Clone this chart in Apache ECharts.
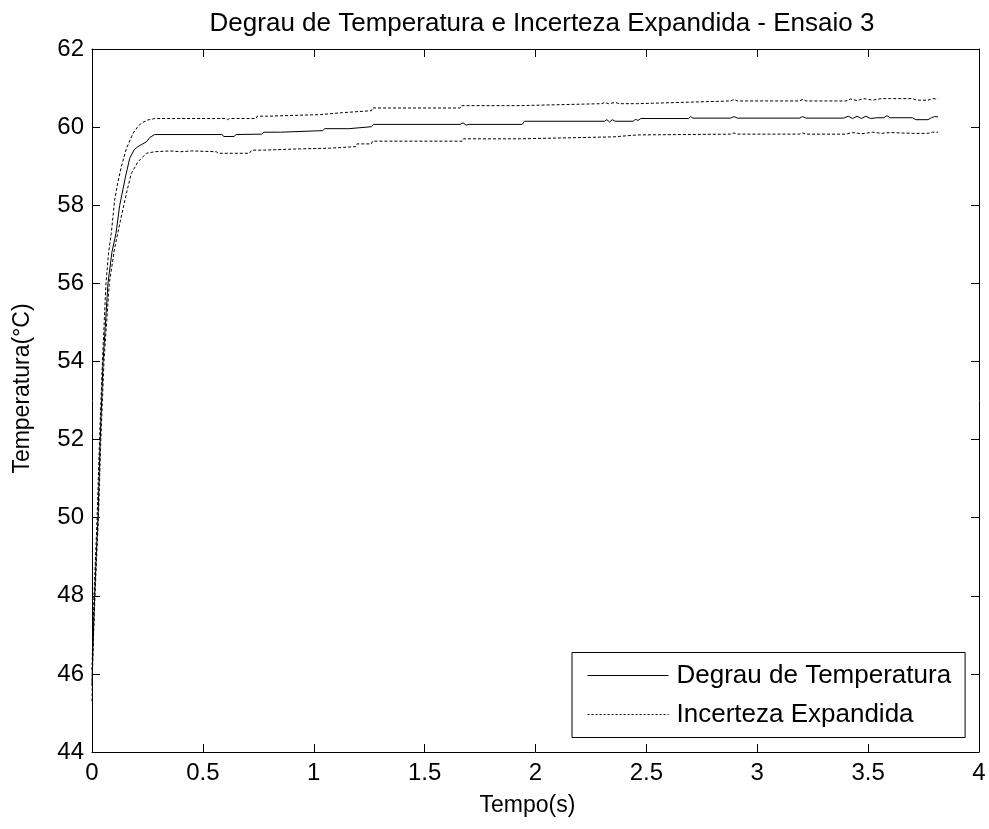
<!DOCTYPE html>
<html>
<head>
<meta charset="utf-8">
<script src="https://cdn.jsdelivr.net/npm/echarts@6/dist/echarts.min.js"></script>
<style>html,body{margin:0;padding:0;background:#fff}#c{width:989px;height:829px}</style>
</head>
<body>
<div id="c"></div>
<script>
const titleText = "Degrau de Temperatura e Incerteza Expandida - Ensaio 3";
const xName = "Tempo(s)";
const yName = "Temperatura(\u00B0C)";
const seriesNames = ["Degrau de Temperatura", "Incerteza Expandida"];
const xTicks = [0, 0.5, 1, 1.5, 2, 2.5, 3, 3.5, 4];
const yTicks = [44, 46, 48, 50, 52, 54, 56, 58, 60, 62];

// Degrau de Temperatura [tempo, temperatura]
const degrau = [
  [0,45.7],[0.001,46.0],[0.006,47.0],[0.012,48.0],[0.019,49.0],[0.027,50.0],[0.037,52.0],[0.05,54.0],
  [0.072,56.0],[0.09,56.8],[0.108,57.28],[0.125,58.0],[0.15,58.7],[0.17,59.2],[0.19,59.42],
  [0.207,59.5],[0.225,59.56],[0.245,59.62],[0.262,59.74],[0.283,59.81],
  [0.585,59.81],[0.595,59.76],[0.64,59.76],[0.65,59.81],[0.765,59.82],[0.775,59.87],
  [0.84,59.87],[0.845,59.9],[0.85,59.87],[0.855,59.91],[1.04,59.91],[1.05,59.96],
  [1.145,59.96],[1.152,59.99],[1.158,59.96],[1.165,60.01],[1.26,60.01],[1.27,60.07],
  [1.66,60.07],[1.673,60.11],[1.688,60.05],[1.70,60.07],[1.94,60.07],[1.95,60.15],
  [2.31,60.15],[2.322,60.19],[2.334,60.13],[2.346,60.19],[2.36,60.15],[2.44,60.15],
  [2.452,60.2],[2.462,60.17],[2.475,60.22],[2.69,60.22],[2.70,60.27],[2.71,60.23],
  [2.88,60.23],[2.895,60.27],[2.91,60.23],[3.19,60.23],[3.205,60.27],[3.22,60.23],
  [3.39,60.23],[3.41,60.28],[3.43,60.22],[3.45,60.28],[3.47,60.22],[3.49,60.28],
  [3.51,60.22],[3.54,60.24],[3.57,60.24],[3.585,60.29],[3.60,60.24],[3.70,60.24],
  [3.715,60.19],[3.77,60.19],[3.785,60.24],[3.80,60.27],[3.815,60.26]
];

// Incerteza Expandida - limite superior
const superior = [
  [0,46.1],[0.004,47.0],[0.009,48.0],[0.016,49.0],[0.023,50.0],[0.034,52.0],[0.047,54.0],
  [0.063,56.0],[0.075,56.8],[0.087,57.28],[0.102,58.13],[0.117,58.6],[0.132,58.98],
  [0.155,59.45],[0.185,59.84],[0.205,60.0],[0.222,60.1],[0.25,60.18],[0.283,60.22],
  [0.60,60.22],[0.61,60.19],[0.62,60.22],[0.74,60.22],[0.745,60.28],[0.79,60.28],
  [0.795,60.32],[1.03,60.32],[1.035,60.37],[1.13,60.37],[1.135,60.42],[1.26,60.42],
  [1.265,60.49],[1.66,60.49],[1.665,60.55],[1.93,60.55],[1.935,60.6],[2.30,60.6],
  [2.31,60.63],[2.33,60.6],[2.36,60.63],[2.38,60.6],[2.46,60.6],[2.465,60.64],
  [2.70,60.64],[2.705,60.67],[2.88,60.67],[2.895,60.71],[2.91,60.67],[3.19,60.67],
  [3.205,60.71],[3.22,60.67],[3.40,60.67],[3.42,60.72],[3.45,60.68],[3.48,60.73],
  [3.52,60.69],[3.56,60.73],[3.60,60.73],[3.70,60.73],[3.72,60.69],[3.77,60.69],
  [3.79,60.73],[3.815,60.72]
];

// Incerteza Expandida - limite inferior
const inferior = [
  [0,45.3],[0.002,46.0],[0.007,47.0],[0.0135,48.0],[0.021,49.0],[0.029,50.0],[0.04,52.0],
  [0.054,54.0],[0.078,56.0],[0.102,56.9],[0.128,57.6],[0.155,58.3],[0.177,58.81],
  [0.207,59.11],[0.245,59.33],[0.283,59.37],[0.35,59.39],[0.40,59.37],[0.45,59.39],
  [0.56,59.37],[0.57,59.33],[0.71,59.33],[0.72,59.41],[0.77,59.41],[0.775,59.44],
  [0.92,59.44],[0.925,59.46],[1.07,59.46],[1.075,59.50],[1.19,59.5],[1.195,59.57],
  [1.26,59.57],[1.265,59.64],[1.67,59.64],[1.675,59.70],[1.93,59.70],[1.935,59.75],
  [2.35,59.75],[2.355,59.80],[2.46,59.80],[2.465,59.82],[2.88,59.82],[2.895,59.85],
  [2.91,59.82],[3.19,59.82],[3.205,59.85],[3.22,59.82],[3.40,59.82],[3.43,59.86],
  [3.47,59.83],[3.52,59.87],[3.56,59.84],[3.60,59.86],[3.70,59.84],[3.77,59.84],
  [3.79,59.87],[3.815,59.87]
];

const FONT = "Liberation Sans, Arial, sans-serif";
const chart = echarts.init(document.getElementById('c'), null, {renderer: 'canvas'});

const axisCommon = {
  axisLine: {show: true, onZero: false, lineStyle: {color: '#000', width: 1}},
  axisTick: {show: true, inside: true, length: 8, lineStyle: {color: '#000'}},
  splitLine: {show: false},
  minorTick: {show: false}
};

chart.setOption({
  animation: false,
  backgroundColor: '#fff',
  title: {
    text: titleText, left: 537, top: 6, textAlign: 'center',
    textStyle: {fontFamily: FONT, fontSize: 26, fontWeight: 'normal', color: '#000'}
  },
  grid: {left: 92, right: 10, top: 49, bottom: 77},
  legend: {
    orient: 'vertical', left: 572, top: 652.5,
    data: [
      {name: seriesNames[0]},
      {name: seriesNames[1], lineStyle: {type: [2, 2]}}
    ],
    itemWidth: 81, itemHeight: 14, itemGap: 13,
    padding: [10, 14, 10, 15],
    borderColor: '#000', borderWidth: 1, backgroundColor: '#fff',
    itemStyle: {opacity: 0},
    lineStyle: {width: 1, color: '#000'},
    textStyle: {fontFamily: FONT, fontSize: 26, color: '#000', padding: [0, 0, 0, 3]}
  },
  xAxis: [
    Object.assign({
      type: 'value', min: xTicks[0], max: xTicks[xTicks.length - 1], interval: 0.5,
      position: 'bottom', name: xName, nameLocation: 'middle', nameGap: 42,
      nameTextStyle: {fontFamily: FONT, fontSize: 23, color: '#000', padding: [0, 16, 0, 0]},
      axisLabel: {fontFamily: FONT, fontSize: 24, color: '#000', margin: 9}
    }, axisCommon),
    Object.assign({
      type: 'value', min: xTicks[0], max: xTicks[xTicks.length - 1], interval: 0.5,
      position: 'top', axisLabel: {show: false}
    }, axisCommon)
  ],
  yAxis: [
    Object.assign({
      type: 'value', min: yTicks[0], max: yTicks[yTicks.length - 1], interval: 2,
      position: 'left', name: yName, nameLocation: 'middle', nameGap: 58,
      nameTextStyle: {fontFamily: FONT, fontSize: 23, color: '#000', padding: [0, 0, 0, 24]},
      axisLabel: {fontFamily: FONT, fontSize: 24, color: '#000', margin: 8}
    }, axisCommon),
    Object.assign({
      type: 'value', min: yTicks[0], max: yTicks[yTicks.length - 1], interval: 2,
      position: 'right', axisLabel: {show: false}
    }, axisCommon)
  ],
  series: [
    {
      name: seriesNames[0], type: 'line', data: degrau, showSymbol: false, symbol: 'none',
      lineStyle: {color: '#000', width: 1, type: 'solid'}, itemStyle: {color: '#000'}
    },
    {
      name: seriesNames[1], type: 'line', data: superior, showSymbol: false, symbol: 'none',
      lineStyle: {color: '#000', width: 1, type: [3, 2]}, itemStyle: {color: '#000'}
    },
    {
      name: seriesNames[1], type: 'line', data: inferior, showSymbol: false, symbol: 'none',
      lineStyle: {color: '#000', width: 1, type: [3, 2]}, itemStyle: {color: '#000'}
    }
  ]
});
</script>
</body>
</html>
